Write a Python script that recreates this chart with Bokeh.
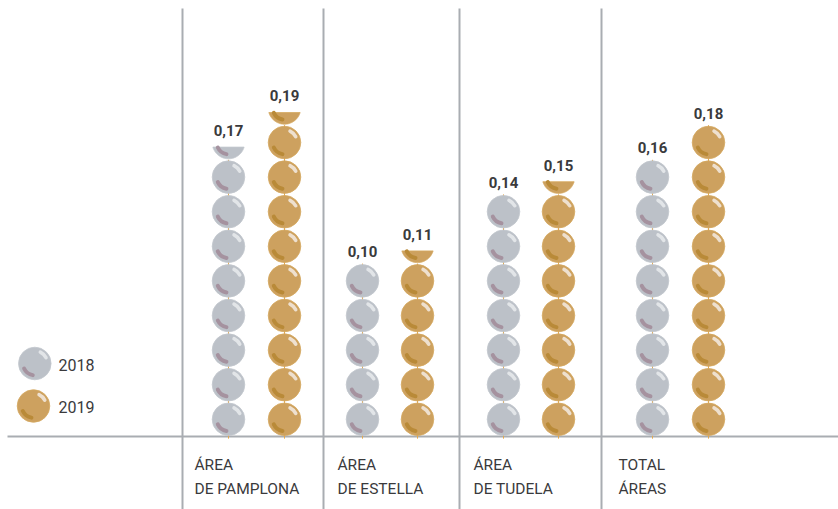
import numpy as np
from bokeh.plotting import figure
from bokeh.models import Range1d
from bokeh.core.properties import value
from bokeh.embed import file_html
from bokeh.resources import INLINE

categories_line1 = ["ÁREA", "ÁREA", "ÁREA", "TOTAL"]
categories_line2 = ["DE PAMPLONA", "DE ESTELLA", "DE TUDELA", "ÁREAS"]
values_2018 = [0.17, 0.10, 0.14, 0.16]
values_2019 = [0.19, 0.11, 0.15, 0.18]
labels_2018 = ["0,17", "0,10", "0,14", "0,16"]
labels_2019 = ["0,19", "0,11", "0,15", "0,18"]
legend_labels = ["2018", "2019"]
unit_per_pearl = 0.02

# layout (x range is 1:1 with pixels; Bokeh's page template has no body margin)
W, H = 838, 509
TOP = 8
BASE = 436.1
PX_PER_UNIT = 34.6 / unit_per_pearl
x_2018 = [228, 362, 503, 652]
x_2019 = [284, 417, 558, 708]
separators = [182, 323, 459, 601]
label_x = [194, 337, 473, 618]
R = 16.3
FONT = "Roboto"
TXT = "#3a3a3c"
RULE = "#a9adb2"
STY = {
    "2018": dict(fill="#bcc1c8", edge="#c3c8ce", hi="#e2e5e8", lo="#a5929f"),
    "2019": dict(fill="#cda15f", edge="#d6a961", hi="#eee0cf", lo="#b98a38"),
}


def Y(px):
    return (BASE - px) / PX_PER_UNIT


p = figure(width=W, height=H, output_backend="svg", toolbar_location=None,
           x_range=Range1d(0, W), y_range=Range1d(Y(H), Y(0)),
           min_border=0, outline_line_color=None, background_fill_color="white",
           border_fill_color="white")
p.axis.visible = False
p.grid.visible = False

# rules
p.segment(separators, [Y(TOP)] * 4, separators, [Y(H)] * 4, line_color=RULE, line_width=2)
p.segment([7], [0], [838], [0], line_color=RULE, line_width=2)


def crescent(xs, ys, sty):
    p.arc(xs, ys, radius=11.8, start_angle=np.radians(205), end_angle=np.radians(260),
          line_color=sty["lo"], line_width=4, line_cap="round")


def pearl(xs, ys, sty):
    p.circle(xs, ys, radius=R, fill_color=sty["fill"], line_color=sty["edge"], line_width=0.8)
    p.arc(xs, ys, radius=12.7, start_angle=np.radians(28), end_angle=np.radians(64),
          line_color=sty["hi"], line_width=3.6, line_cap="round")
    crescent(xs, ys, sty)


def half(x, yc, sty):
    cut = 4.6  # px below the centre of the pearl
    a0 = np.arcsin(-cut / R)
    t = np.linspace(a0, -np.pi - a0, 60)
    xs = x + R * np.cos(t)
    ys = yc + R * np.sin(t) / PX_PER_UNIT
    p.patch(xs, ys, fill_color=sty["fill"], line_color=sty["edge"], line_width=0.8)
    crescent([x], [yc], sty)


def column(x, val, sty):
    count = val / unit_per_pearl
    full = int(np.floor(count + 1e-9))
    p.segment([x], [-0.0012], [x], [full * unit_per_pearl], line_color="#e3a94f", line_width=1)
    ys = [(i + 0.5) * unit_per_pearl for i in range(full)]
    pearl([x] * full, ys, sty)
    if count - full > 1e-6:
        half(x, (full + 0.5) * unit_per_pearl, sty)


for x, v in zip(x_2018, values_2018):
    column(x, v, STY["2018"])
for x, v in zip(x_2019, values_2019):
    column(x, v, STY["2019"])

# value labels
p.text(x_2018, values_2018, text=labels_2018, text_font=value(FONT), text_font_size="15px",
       text_font_style="bold", text_align="center", text_baseline="alphabetic", y_offset=-12,
       text_color=TXT)
p.text(x_2019, values_2019, text=labels_2019, text_font=value(FONT), text_font_size="15px",
       text_font_style="bold", text_align="center", text_baseline="alphabetic", y_offset=-12,
       text_color=TXT)

# category labels
p.text(label_x, [0] * 4, text=categories_line1, text_font=value(FONT), text_font_size="15.5px",
       text_baseline="alphabetic", y_offset=28.5, text_color=TXT)
p.text(label_x, [0] * 4, text=categories_line2, text_font=value(FONT), text_font_size="15.5px",
       text_baseline="alphabetic", y_offset=52.5, text_color=TXT)

# legend
pearl([34.3], [Y(363)], STY["2018"])
pearl([33], [Y(405.5)], STY["2019"])
p.text([58, 58], [Y(364), Y(406.5)], text=legend_labels, text_font=value(FONT),
       text_font_size="16px", text_baseline="alphabetic", text_color=TXT)

open("out.html", "w").write(file_html(p, INLINE))
